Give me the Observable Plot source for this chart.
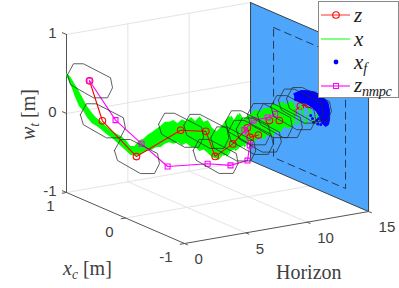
<!DOCTYPE html>
<html><head><meta charset="utf-8">
<script src="https://cdn.jsdelivr.net/npm/d3@7"></script>
<script src="https://cdn.jsdelivr.net/npm/@observablehq/plot@0.6"></script>
<style>
html,body{margin:0;padding:0;background:#fff}
#wrap{position:relative;width:399px;height:288px;overflow:hidden}
.t{position:absolute;font-family:"Liberation Serif",serif;color:#404040;white-space:nowrap}
.t i{font-style:italic}
.t sub{font-size:68%;font-style:italic;vertical-align:baseline;position:relative;top:.28em}
#lg{position:absolute;left:318px;top:1px;width:79px;height:95px;background:#fff;border:1px solid #8a8a8a}
#lg svg{position:absolute;left:0;top:0}
#lg .r{position:absolute;left:35px;font:italic 21px "Liberation Serif",serif;color:#222;white-space:nowrap}
#lg sub{font-size:68%;vertical-align:baseline;position:relative;top:.3em}
</style></head><body><div id="wrap"></div>
<script>
// 3-D axis ticks
const wtTicks = [-1, 0, 1];
const xcTicks = [-1, 0, 1];
const horizonTicks = [0, 5, 10, 15];

// z : nominal trajectory
const zH  = [0,1,2,3,4,5,6,7,8,9,10,11,12,13,14];
const zXc = [.61,.60,.23,-.31,-.53,-.48,-.57,-.61,-.45,-.38,-.36,-.32,-.34,-.26,-.19];
const zWt = [.54,.01,-.35,.13,.16,-.2,-.04,.15,-.05,-.07,.08,.04,.12,.15,.12];

// z_nmpc trajectory
const nH  = [0,1,2,3,4,5,6,7,8,9,10,11];
const nXc = [.61,.377,.144,-.09,-.56,-.74,-.82,-.65,-.35,-.3,-.33,-.25];
const nWt = [.54,.09,-.16,-.4,-.24,-.23,-.17,-.06,.01,.09,.11,.10];

// tube cross-section around z (delta xc, delta wt)
const tubeDXc = [.373,.271,.102,-.356,-.39,-.305,-.068,.322,.373];
const tubeDWt = [-.044,.128,.182,.153,.037,-.117,-.194,-.154,-.044];

// x : envelope of the closed-loop trajectories
const xH = [0,.25,.5,.75,1,1.25,1.5,1.75,2,2.25,2.5,2.75,3,3.25,3.5,3.75,4,4.25,4.5,4.75,5,5.25,5.5,5.75,6,6.25,6.5,6.75,7,7.25,7.5,7.75,8,8.25,8.5,8.75,9,9.25,9.5,9.75,10,10.25,10.5,10.75,11,11.25,11.5,11.75,12,12.25,12.5,12.75,13,13.25,13.5,13.75,14,14.25,14.5,14.75];
const xXc = [1,.98,.96,.94,.92,.90,.87,.85,.83,.81,.79,.77,.75,.73,.71,.69,.67,.65,.62,.60,.58,.56,.54,.52,.50,.48,.46,.44,.42,.39,.37,.35,.33,.31,.29,.27,.25,.23,.21,.19,.17,.14,.12,.10,.08,.06,.04,.02,0,-.02,-.04,-.06,-.09,-.11,-.13,-.15,-.17,-.19,-.21,-.23];
const xWtHi = [.51,.46,.37,.28,.18,.08,0,-.06,-.10,-.15,-.20,-.24,-.27,-.30,-.35,-.42,-.42,-.35,-.32,-.27,-.24,-.20,-.16,-.11,-.11,-.09,-.13,-.08,-.11,-.05,-.10,-.04,-.11,-.09,-.19,-.23,-.18,-.11,-.04,-.10,-.01,-.08,-.04,-.01,.04,.01,.06,.06,.11,.09,.14,.10,.15,.09,.11,.05,.06,.01,0,-.05];
const xWtLo = [.48,.37,.22,.09,.03,-.06,-.13,-.16,-.20,-.25,-.29,-.33,-.38,-.43,-.48,-.53,-.54,-.53,-.49,-.48,-.46,-.43,-.43,-.39,-.37,-.39,-.37,-.41,-.38,-.43,-.43,-.48,-.46,-.51,-.56,-.58,-.54,-.54,-.49,-.47,-.44,-.42,-.38,-.35,-.34,-.30,-.32,-.28,-.28,-.23,-.22,-.18,-.18,-.14,-.11,-.14,-.10,-.14,-.10,-.10];

// x_f : terminal states (on the Horizon = 15 plane): outline of the dense cloud, then loose states
const xfEdgeXc = [.27,.15,.02,-.10,-.22,-.31,-.34,-.34,-.32,-.27,-.20,-.17,-.12,-.05,.05,.15,.25];
const xfEdgeWt = [.08,.16,.20,.22,.20,.16,.06,-.04,-.12,-.16,-.13,-.07,-.02,.01,.03,.01,.01];
const xfLooseXc = [.24,.17,.10,.03,-.03,-.10,-.15,-.19,-.20,-.22,-.15,-.12,-.07,-.14,-.19,-.05,-.02];
const xfLooseWt = [.02,.04,.05,.06,.06,.05,.03,-.01,-.05,-.10,-.10,-.13,-.17,-.17,-.16,-.13,-.10];

// terminal set wall and its dashed constraint box
const wallXc = [1,-1,-1,1,1];
const wallWt = [1,1,-1,-1,1];
const boxXc = [.61,-.61,-.61,.61,.61];
const boxWt = [.81,.81,-.835,-.835,.81];
const wallH = 15;

// view of the 3-D box on the picture plane
const view = {ox:66, oy:192, hx:12.27, hy:-2.13, cx:59, cy:25.5, w:79};
const px = (h,c) => view.ox + view.hx*h + view.cx*(1-c);
const py = (h,c,w) => view.oy + view.hy*h + view.cy*(1-c) - view.w*(w+1);
const P = (h,c,w) => ({x:px(h,c), y:py(h,c,w)});

const seg = (a,b,k) => [{...P(...a),k},{...P(...b),k}];
const grid = [
  ...wtTicks.flatMap(w => seg([0,1,w],[15,1,w],"w"+w)),
  ...[5,10].flatMap(h => seg([h,1,-1],[h,1,1],"v"+h)),
  ...[5,10].flatMap(h => seg([h,1,-1],[h,-1,-1],"h"+h)),
  ...seg([0,0,-1],[15,0,-1],"c0")
];
const axes = [
  ...seg([0,1,-1],[0,1,1],"a"), ...seg([0,1,-1],[0,-1,-1],"b"), ...seg([0,-1,-1],[15,-1,-1],"c"),
  ...wtTicks.flatMap(w => seg([0,1,w],[0,1.07,w],"tw"+w)),
  ...xcTicks.flatMap(c => seg([0,c,-1],[-.35,c,-1],"tc"+c)),
  ...horizonTicks.flatMap(h => seg([h,-1,-1],[h,-1.05,-1],"th"+h))
];
const wall = wallXc.map((c,i) => P(wallH,c,wallWt[i]));
const box = boxXc.map((c,i) => P(wallH,c,boxWt[i]));
const z = zH.map((h,i) => P(h,zXc[i],zWt[i]));
const nmpc = nH.map((h,i) => P(h,nXc[i],nWt[i]));
const band = xH.map((h,i) => ({x:px(h,xXc[i]), y1:py(h,xXc[i],xWtHi[i]), y2:py(h,xXc[i],xWtLo[i])}));
const swing = xH.flatMap((h,i) => [P(h,xXc[i],i%2?xWtHi[i]:xWtLo[i]),P(h+.12,xXc[i],i%2?xWtLo[i]:xWtHi[i])]);
const xfEdge = xfEdgeXc.map((c,i) => P(wallH,c,xfEdgeWt[i]));
const xfLoose = xfLooseXc.map((c,i) => P(wallH,c,xfLooseWt[i]));
const tubes = zH.flatMap((h,i) => tubeDXc.map((d,j) => ({...P(h,zXc[i]+d,zWt[i]+tubeDWt[j]),k:i})));

const sans = "Liberation Sans, Arial, sans-serif";
const textCol = "#404040";
const chart = Plot.plot({
  width:399, height:288, margin:0,
  style:{background:"transparent"},
  x:{domain:[0,399], range:[0,399], axis:null},
  y:{domain:[0,288], range:[0,288], axis:null},
  marks:[
    Plot.line(grid,{x:"x",y:"y",z:"k",stroke:"#e4e4e4",strokeWidth:1}),
    Plot.line(wall,{x:"x",y:"y",fill:"#4da6fb",stroke:"#3a3f45",strokeWidth:1}),
    Plot.line(box,{x:"x",y:"y",stroke:"#1f3b57",strokeWidth:1,strokeDasharray:"7,5"}),
    Plot.line(axes,{x:"x",y:"y",z:"k",stroke:"#555",strokeWidth:1}),
    // the last z samples sit under the green runs
    Plot.line(z.slice(9),{x:"x",y:"y",stroke:"#ff0000",strokeWidth:1.1}),
    Plot.dot(z.slice(10),{x:"x",y:"y",r:3.3,stroke:"#ff0000",strokeWidth:1.1}),
    Plot.areaY(band.slice(0,54),{x:"x",y1:"y1",y2:"y2",fill:"#00ff00"}),
    Plot.line(swing.slice(70),{x:"x",y:"y",stroke:"#00ff00",strokeWidth:1.3}),
    Plot.line(z.slice(0,10),{x:"x",y:"y",stroke:"#ff0000",strokeWidth:1.1}),
    Plot.dot(z.slice(0,12),{x:"x",y:"y",r:3.3,stroke:"#ff0000",strokeWidth:1.1}),
    Plot.line(xfEdge,{x:"x",y:"y",fill:"#0000ff",stroke:"#0000ff",strokeWidth:1}),
    Plot.dot(xfLoose,{x:"x",y:"y",r:1.5,fill:"#0000ff"}),
    Plot.line(nmpc,{x:"x",y:"y",stroke:"#ff00ff",strokeWidth:1.1}),
    Plot.dot(nmpc,{x:"x",y:"y",symbol:"square",r:2.8,stroke:"#ff00ff",strokeWidth:1.1}),
    Plot.line(tubes,{x:"x",y:"y",z:"k",stroke:"#2a2a2a",strokeWidth:.75}),
    Plot.text(wtTicks,{x:w=>px(0,1),y:w=>py(0,1,w),text:w=>String(w),dx:-10,dy:-1,textAnchor:"end",fontFamily:sans,fontSize:15,fill:textCol}),
    Plot.text(xcTicks,{x:c=>px(0,c),y:c=>py(0,c,-1),text:c=>String(c),dx:-12,dy:14,textAnchor:"end",fontFamily:sans,fontSize:15,fill:textCol}),
    Plot.text(horizonTicks,{x:h=>px(h,-1),y:h=>py(h,-1,-1),text:h=>String(h),dx:10,dy:16,textAnchor:"start",fontFamily:sans,fontSize:15,fill:textCol})
  ]
});
const wrap = document.getElementById("wrap");
wrap.appendChild(chart);
wrap.insertAdjacentHTML("beforeend",`
<div class="t" style="left:276px;top:261px;font-size:20px">Horizon</div>
<div class="t" style="left:63px;top:257px;font-size:20px"><i>x</i><sub>c</sub> [m]</div>
<div class="t" style="left:-2px;top:103px;font-size:20px;width:60px;text-align:center;transform:rotate(-90deg)"><i>w</i><sub>t</sub> [m]</div>
<div id="lg"><svg width="79" height="95">
<line x1="2" x2="31" y1="13" y2="13" stroke="#ff5050" stroke-width="1.2"/><circle cx="17" cy="13" r="3.3" fill="none" stroke="#ff0000" stroke-width="1.1"/>
<line x1="2" x2="31" y1="37" y2="37" stroke="#00ff00"/>
<circle cx="17" cy="60" r="2.4" fill="#0000ff"/>
<line x1="2" x2="31" y1="84" y2="84" stroke="#ff00ff" stroke-width="1.1"/><rect x="14.5" y="81.5" width="5" height="5" fill="none" stroke="#ff00ff"/>
</svg>
<div class="r" style="top:1px">z</div>
<div class="r" style="top:25px">x</div>
<div class="r" style="top:48px">x<sub>f</sub></div>
<div class="r" style="top:71px;letter-spacing:-.3px">z<sub>nmpc</sub></div>
</div>`);
</script></body></html>
